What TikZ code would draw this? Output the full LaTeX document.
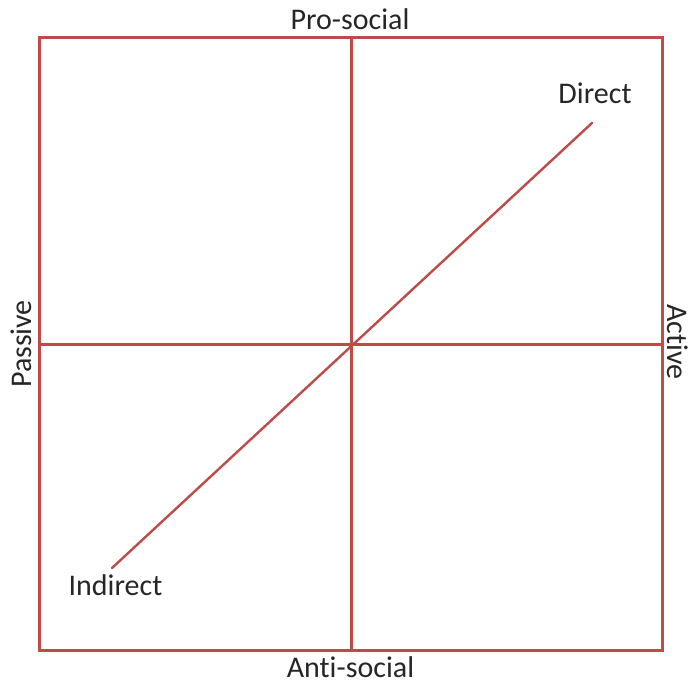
\documentclass[tikz,border=0pt]{standalone}
\usepackage{fontspec}
\setmainfont{Carlito}[Ligatures=NoCommon]
\usepackage{tikz}
\usetikzlibrary{positioning}
\definecolor{axisred}{HTML}{BE4B48}

\begin{document}
\begin{tikzpicture}[x=1pt, y=-1pt,
  every node/.style={font=\fontsize{30}{35}\selectfont, inner sep=0pt, text=black!85},
  axis/.style={draw=axisred, line width=3pt},
  diag/.style={draw=axisred, line width=2.4pt, line cap=round},
  lbl/.style={anchor=base}
]
\useasboundingbox (0,0) rectangle (689,684);
% frame and cross
\coordinate (tl) at (39,38);
\coordinate (br) at (662,651);
\coordinate (top) at (351,38);
\coordinate (bot) at (351,651);
\coordinate (lft) at (39,345);
\coordinate (rgt) at (662,345);
\coordinate (ind) at (112,568);
\coordinate (dir) at (592,123);
\draw[axis] (tl) rectangle (br);
\draw[axis] (top) -- (bot);
\draw[axis] (lft) -- (rgt);
\draw[diag] (ind) -- (dir);
% axis labels
\node[lbl] (pro)  at (350,30)  {Pro-social};
\node[lbl] (anti) at (350.5,678) {Anti-social};
\node[lbl, rotate=90]  (pas) at (31,344)  {Passive};
\node[lbl, rotate=-90] (act) at (667,342) {Active};
% line end labels
\node[lbl] (dlbl) at (595,104) {Direct};
\node[lbl] (ilbl) at (115.5,596) {Indirect};
\end{tikzpicture}
\end{document}
